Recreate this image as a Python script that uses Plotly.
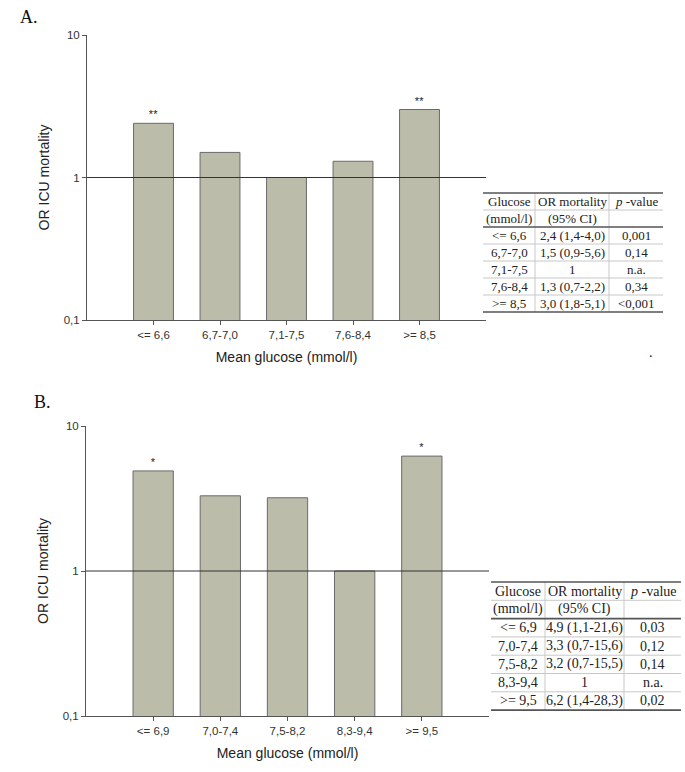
import plotly.graph_objects as go

W, H = 685, 772

# Paneel A
cat_a = ['<= 6,6', '6,7-7,0', '7,1-7,5', '7,6-8,4', '>= 8,5']
or_a = [2.4, 1.5, 1.0, 1.3, 3.0]
sig_a = ['**', '', '', '', '**']
ci_a = ['2,4 (1,4-4,0)', '1,5 (0,9-5,6)', '1', '1,3 (0,7-2,2)', '3,0 (1,8-5,1)']
p_a = ['0,001', '0,14', 'n.a.', '0,34', '<0,001']

# Paneel B
cat_b = ['<= 6,9', '7,0-7,4', '7,5-8,2', '8,3-9,4', '>= 9,5']
or_b = [4.9, 3.3, 3.2, 1.0, 6.2]
sig_b = ['*', '', '', '', '*']
ci_b = ['4,9 (1,1-21,6)', '3,3 (0,7-15,6)', '3,2 (0,7-15,5)', '1', '6,2 (1,4-28,3)']
p_b = ['0,03', '0,12', '0,14', 'n.a.', '0,02']

y_ticks = [0.1, 1, 10]
y_ticktext = ['0,1', '1', '10']
header = [['Glucose', 'OR mortality', '<i>p</i> -value'],
          ['(mmol/l)', '(95% CI)', '']]

SANS = 'Arial, Liberation Sans, sans-serif'
SERIF = 'Times New Roman, Liberation Serif, serif'
BAR = '#bcbcaa'


def esc(s):
    return s.replace('<', '&lt;').replace('>', '&gt;')


def fx(p):
    return p / W


def fy(p):
    return 1 - p / H


# pixel-posities van de panelen (links, rechts, boven, onder) en de tabellen
panels = [
    dict(cats=cat_a, vals=or_a, sig=sig_a, ci=ci_a, p=p_a, label='A.',
         plot=(87, 486, 35, 320), lab=(18, 17),
         tab=(483, 193), cw=[52, 74, 54], fs=13, rh=17),
    dict(cats=cat_b, vals=or_b, sig=sig_b, ci=ci_b, p=p_b, label='B.',
         plot=(86, 489, 426, 716), lab=(32, 402),
         tab=(491, 582), cw=[54, 79, 57], fs=14, rh=18.3),
]

fig = go.Figure()
shapes = []
annotations = []
layout = {}


def hline(x0, x1, y, color, width):
    shapes.append(dict(type='line', xref='paper', yref='paper',
                       x0=fx(x0), x1=fx(x1), y0=fy(y), y1=fy(y),
                       line=dict(color=color, width=width)))


def vline(x, y0, y1, color, width):
    shapes.append(dict(type='line', xref='paper', yref='paper',
                       x0=fx(x), x1=fx(x), y0=fy(y0), y1=fy(y1),
                       line=dict(color=color, width=width)))


for i, pn in enumerate(panels, start=1):
    xa = 'x' if i == 1 else f'x{i}'
    ya = 'y' if i == 1 else f'y{i}'
    l, r, t, b = pn['plot']

    fig.add_trace(go.Bar(
        x=pn['cats'], y=pn['vals'], xaxis=xa, yaxis=ya,
        width=0.6, marker=dict(color=BAR, line=dict(color='#6a6a6a', width=1)),
        text=pn['sig'], textposition='outside', cliponaxis=False,
        textfont=dict(family=SANS, size=11, color='#222'),
        showlegend=False, hoverinfo='x+y'
    ))

    layout[f'xaxis{"" if i == 1 else i}'] = dict(
        domain=[fx(l), fx(r)], anchor=ya, type='category', range=[-1, 5],
        tickvals=pn['cats'], ticktext=[esc(c) for c in pn['cats']],
        showline=True, linecolor='#555', linewidth=1,
        ticks='outside', ticklen=4, tickcolor='#555',
        tickfont=dict(family=SANS, size=11.5, color='#333'),
        title=dict(text='Mean glucose (mmol/l)', standoff=12,
                   font=dict(family=SANS, size=14, color='#222')),
        showgrid=False, zeroline=False, fixedrange=True, automargin=False,
    )
    layout[f'yaxis{"" if i == 1 else i}'] = dict(
        domain=[fy(b), fy(t)], anchor=xa, type='log', range=[-1, 1],
        tickvals=y_ticks, ticktext=y_ticktext,
        showline=True, linecolor='#555', linewidth=1,
        ticks='outside', ticklen=4, tickcolor='#555',
        tickfont=dict(family=SANS, size=11.5, color='#333'),
        title=dict(text='OR ICU mortality', standoff=10,
                   font=dict(family=SANS, size=14, color='#222')),
        showgrid=False, zeroline=False, fixedrange=True, automargin=False,
    )

    # referentielijn bij OR = 1
    shapes.append(dict(type='line', xref=f'{xa} domain', yref=ya,
                       x0=0, x1=1, y0=1, y1=1,
                       line=dict(color='#333', width=1)))

    # tabel: kop van twee regels en vijf rijen
    tx, ty = pn['tab']
    rh = pn['rh']
    edges = [tx]
    for w in pn['cw']:
        edges.append(edges[-1] + w)
    rows = header + [[esc(c), ci, esc(p)]
                     for c, ci, p in zip(pn['cats'], pn['ci'], pn['p'])]
    bottom = ty + len(rows) * rh
    for ri, row in enumerate(rows):
        for ci_, txt in enumerate(row):
            if not txt:
                continue
            annotations.append(dict(
                text=txt, xref='paper', yref='paper',
                x=fx((edges[ci_] + edges[ci_ + 1]) / 2), y=fy(ty + (ri + 0.5) * rh),
                xanchor='center', yanchor='middle', showarrow=False,
                font=dict(family=SERIF, size=pn['fs'], color='#222')))
    for ri in range(1, len(rows)):
        if ri != 2:
            hline(tx, edges[-1], ty + ri * rh, '#c8c8c8', 1)
    for e in edges[1:-1]:
        vline(e, ty, bottom, '#c8c8c8', 1)
    for yy in (ty, ty + 2 * rh, bottom):
        hline(tx, edges[-1], yy, '#555', 1.6)

    annotations.append(dict(text=pn['label'], xref='paper', yref='paper',
                            x=fx(pn['lab'][0]), y=fy(pn['lab'][1]),
                            xanchor='left', yanchor='middle', showarrow=False,
                            font=dict(family=SERIF, size=18, color='#111')))

# losse punt rechts naast paneel A
annotations.append(dict(text='.', xref='paper', yref='paper',
                        x=fx(655), y=fy(352), showarrow=False,
                        font=dict(family=SERIF, size=14, color='#111')))

fig.update_layout(
    width=W, height=H,
    margin=dict(l=0, r=0, t=0, b=0),
    paper_bgcolor='white', plot_bgcolor='white',
    shapes=shapes, annotations=annotations,
    bargap=0.4, showlegend=False,
    **layout
)

# geen standaardmarge rond de pagina, geen modebar
fig.write_html('out.html', config={'displayModeBar': False},
               post_script="document.body.style.margin='0';")
